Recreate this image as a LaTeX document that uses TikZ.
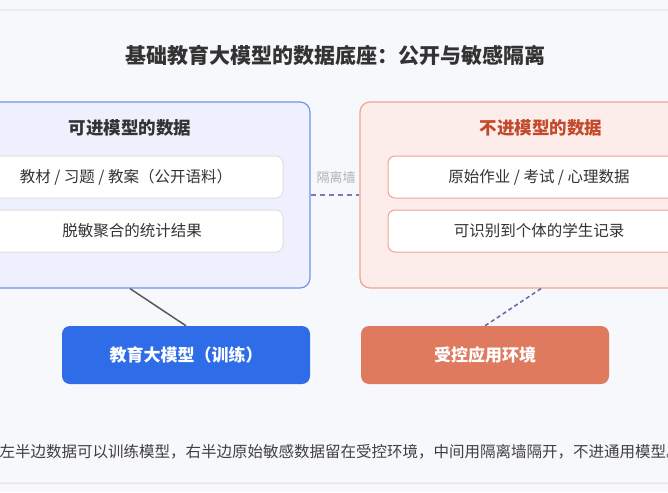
\documentclass[tikz,border=0pt]{standalone}
\usepackage{fontspec}
\setmainfont{Noto Sans CJK SC}
\usetikzlibrary{calc,positioning}
\definecolor{bgc}{HTML}{F7F8FB}
\definecolor{lfill}{HTML}{EEF1FD}
\definecolor{lline}{HTML}{7094EA}
\definecolor{rfill}{HTML}{FDEDEA}
\definecolor{rline}{HTML}{F0A494}
\definecolor{rhead}{HTML}{C2492B}
\definecolor{bluebox}{HTML}{2F6CE8}
\definecolor{redbox}{HTML}{E07A5F}
\definecolor{txt}{HTML}{333333}
\tikzset{
  panel/.style={draw,line width=1.2pt,rounded corners=10pt,minimum width=330pt,minimum height=186pt},
  item/.style={draw,fill=white,line width=1pt,rounded corners=7pt,minimum width=302pt,minimum height=42pt,font=\fontsize{15.5}{17}\selectfont,text=txt},
  head/.style={font=\fontsize{17.5}{19}\selectfont\bfseries},
  target/.style={rounded corners=8pt,minimum width=248pt,minimum height=58pt,text=white,font=\fontsize{17}{19}\selectfont\bfseries}
}
\begin{document}
\begin{tikzpicture}[x=1pt,y=-1pt]
  \useasboundingbox (0,0) rectangle (668,492);
  \clip (0,0) rectangle (668,492);
  \fill[bgc] (0,0) rectangle (668,492);
  \draw[gray!25,line width=1pt,rounded corners=8pt] (-10,10) rectangle (678,483);
  % title
  \node[font=\fontsize{21}{23}\selectfont\bfseries,text=txt] (title) at (335,55) {基础教育大模型的数据底座：公开与敏感隔离};
  % left side
  \node[panel,fill=lfill,draw=lline] (lp) at (145,195) {};
  \node[head,text=txt] (lh) at (130,128) {可进模型的数据};
  \node[item,draw=gray!25] (l1) at (132,177) {\hspace*{-12pt}教材 / 习题 / 教案（公开语料）};
  \node[item,draw=gray!25] (l2) at (132,231) {脱敏聚合的统计结果};
  % right side
  \node[panel,fill=rfill,draw=rline] (rp) at (525,195) {};
  \node[head,text=rhead] (rh) at (541,128) {不进模型的数据};
  \node[item,draw=rline] (r1) at (539,177) {原始作业 / 考试 / 心理数据};
  \node[item,draw=rline] (r2) at (539,231) {可识别到个体的学生记录};
  % wall
  \node[font=\fontsize{13}{15}\selectfont,text=gray!60] (wall) at (336,178) {隔离墙};
  \coordinate (w) at (336,195);
  \draw[gray!70!blue!80,line width=1.5pt,dash pattern=on 5pt off 4pt] (lp.east |- w) -- (rp.west |- w);
  % targets
  \node[target,fill=bluebox] (model) at (186,355) {教育大模型（训练）};
  \node[target,fill=redbox] (ctrl) at (485,355) {受控应用环境};
  \draw[black!65,line width=1.5pt] (lh |- lp.south) -- (model.north);
  \draw[black!55!blue!60,line width=1.5pt,dash pattern=on 4pt off 3pt] (rh |- rp.south) -- (ctrl.north);
  % note
  \node[anchor=west,font=\fontsize{15.5}{17}\selectfont,text=black!75] (note) at (-4,452) {左半边数据可以训练模型，右半边原始敏感数据留在受控环境，中间用隔离墙隔开，不进通用模型。};
\end{tikzpicture}
\end{document}
